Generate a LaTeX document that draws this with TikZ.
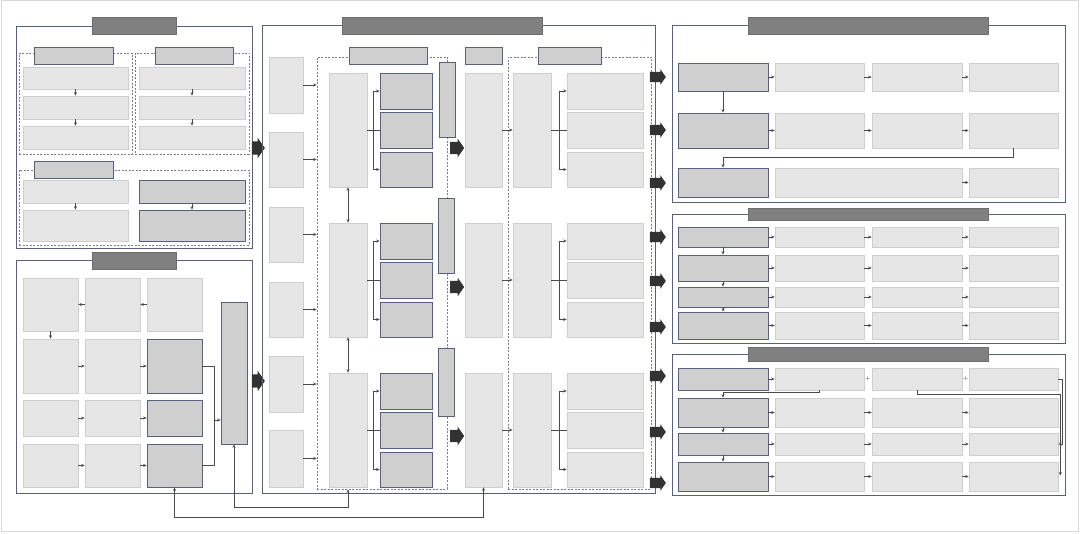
\documentclass[tikz,border=0pt]{standalone}
\usepackage{tikz}
\usetikzlibrary{arrows.meta,calc,shapes.arrows,positioning}
\definecolor{slate}{RGB}{86,98,124}
\definecolor{titlegray}{RGB}{128,128,128}
\definecolor{lightfill}{RGB}{230,230,230}
\definecolor{lightedge}{RGB}{206,206,206}
\definecolor{midfill}{RGB}{208,207,208}
\definecolor{dashgray}{RGB}{125,125,125}
\definecolor{linegray}{RGB}{75,75,75}
\definecolor{arrowgray}{RGB}{50,50,50}
\definecolor{framegray}{RGB}{216,216,216}

% box from corner (x1,y1) to (x2,y2)
\newcommand{\bx}[6]{\node[#1, minimum width={((#5)-(#3))*1pt}, minimum height={((#6)-(#4))*1pt}] (#2) at ({((#3)+(#5))/2},{((#4)+(#6))/2}) {};}
% shaft thickness of a big arrow
\newcommand{\shaft}[1]{\rule{0pt}{#1}}

\tikzset{
	panel/.style={draw=slate, line width=0.9pt, inner sep=0},
	titlebar/.style={fill=titlegray, draw=titlegray!85!black, line width=0.4pt, inner sep=0},
	lbox/.style={fill=lightfill, draw=lightedge, line width=0.6pt, inner sep=0},
	gbox/.style={fill=midfill, draw=slate, line width=0.7pt, inner sep=0},
	dbox/.style={draw=dashgray, dash pattern=on 2pt off 1.5pt, line width=0.6pt, inner sep=0},
	flow/.style={draw=linegray, line width=0.5pt, -{Stealth[length=3.5pt,width=3pt]}},
	twoway/.style={draw=linegray, line width=0.5pt, {Stealth[length=3.5pt,width=3pt]}-{Stealth[length=3.5pt,width=3pt]}},
	link/.style={draw=linegray, line width=0.5pt},
	bigarrow/.style={single arrow, fill=arrowgray, inner sep=0, minimum height=16pt, single arrow head extend=2.5pt, single arrow head indent=0pt, single arrow tip angle=110},
	plussign/.style={text=linegray, font=\scriptsize, inner sep=0}
}

\begin{document}
\begin{tikzpicture}[x=1pt,y=1pt,yscale=-1]
	\useasboundingbox (0,0) rectangle (1080,534);
	\draw[framegray, line width=1pt] (1,1) rectangle (1078,532);
	
	% panel A
	\bx{panel}{pa}{16}{26}{252}{248}
	\bx{titlebar}{ta}{92}{17}{176}{34}
	\bx{dbox}{da1}{19}{53}{132}{154}
	\bx{dbox}{da2}{135}{53}{249}{154}
	\bx{dbox}{da3}{19}{170}{249}{245}
	\bx{gbox}{ha1}{34}{47}{113}{64}
	\bx{gbox}{ha2}{155}{47}{233}{64}
	\bx{gbox}{ha3}{34}{161}{113}{178}
	\foreach \c/\xa/\xb in {1/23/128, 2/139/245} {
		\bx{lbox}{a\c1}{\xa}{67}{\xb}{89}
		\bx{lbox}{a\c2}{\xa}{96}{\xb}{119}
		\bx{lbox}{a\c3}{\xa}{126}{\xb}{149}
		\draw[flow] (a\c1) -- (a\c2);
		\draw[flow] (a\c2) -- (a\c3);
	}
	\bx{lbox}{a31}{23}{180}{128}{203}
	\bx{lbox}{a32}{23}{210}{128}{241}
	\bx{gbox}{a33}{139}{180}{245}{203}
	\bx{gbox}{a34}{139}{210}{245}{241}
	\draw[flow] (a31) -- (a32);
	\draw[flow] (a33) -- (a34);
	
	% panel B
	\bx{panel}{pb}{16}{260}{252}{493}
	\bx{titlebar}{tb}{92}{252}{176}{269}
	\foreach \r/\ya/\yb in {1/278/331, 2/339/393, 3/400/436, 4/444/487} {
		\bx{lbox}{b\r1}{23}{\ya}{78}{\yb}
		\bx{lbox}{b\r2}{85}{\ya}{140}{\yb}
	}
	\bx{lbox}{b13}{147}{278}{202}{331}
	\bx{gbox}{b23}{147}{339}{202}{393}
	\bx{gbox}{b33}{147}{400}{202}{436}
	\bx{gbox}{b43}{147}{444}{202}{487}
	\bx{gbox}{bt}{221}{302}{247}{444}
	\draw[flow] (b13) -- (b12);
	\draw[flow] (b12) -- (b11);
	\draw[flow] (b11) -- (b21);
	\foreach \r in {2,3,4} {
		\draw[flow] (b\r1) -- (b\r2);
		\draw[flow] (b\r2) -- (b\r3);
	}
	\draw[link] (b23.east) -- ++(12,0) |- (b43.east);
	\coordinate (bj) at ($(b23.east)+(12,54)$);
	\draw[flow] (bj) -- (bj -| bt.west);
	\node[bigarrow, minimum height=13pt, single arrow head extend=3.5pt] (ba1) at (256,148) {\shaft{13pt}};
	\node[bigarrow, minimum height=13pt, single arrow head extend=3.5pt] (ba2) at (256,381) {\shaft{13pt}};
	
	% panel C
	\bx{panel}{pc}{262}{25}{655}{493}
	\bx{titlebar}{tc}{342}{17}{542}{34}
	\bx{dbox}{dc1}{317}{57}{447}{489}
	\bx{dbox}{dc2}{508}{57}{651}{489}
	\bx{gbox}{hc1}{349}{47}{427}{64}
	\bx{gbox}{hc0}{465}{47}{502}{64}
	\bx{gbox}{hc2}{538}{47}{601}{64}
	\foreach \k/\ya/\yb in {1/57/113, 2/132/187, 3/207/262, 4/282/337, 5/356/412, 6/430/487} {
		\bx{lbox}{s\k}{269}{\ya}{303}{\yb}
		\draw[flow] (s\k.east) -- (s\k.east -| dc1.west);
	}
	\foreach \r/\ya/\yb in {1/73/187, 2/223/337, 3/373/487} {
		\bx{lbox}{t\r}{329}{\ya}{367}{\yb}
		\bx{lbox}{m\r}{465}{\ya}{502}{\yb}
		\bx{lbox}{f\r}{513}{\ya}{551}{\yb}
		\bx{gbox}{g\r1}{380}{\ya}{432}{\ya+36}
		\bx{gbox}{g\r2}{380}{\ya+39}{432}{\ya+75}
		\bx{gbox}{g\r3}{380}{\ya+79}{432}{\yb}
		\bx{lbox}{h\r1}{567}{\ya}{643}{\ya+36}
		\bx{lbox}{h\r2}{567}{\ya+39}{643}{\ya+75}
		\bx{lbox}{h\r3}{567}{\ya+79}{643}{\yb}
		\draw[flow] (m\r) -- (f\r);
		\draw[link] (t\r) -- (g\r2);
		\coordinate (kt\r) at ($(t\r.east)!0.5!(g\r2.west)$);
		\draw[flow] (kt\r |- g\r3.west) -- (kt\r |- g\r1.west) -- (g\r1.west);
		\draw[flow] (kt\r |- g\r1.west) -- (kt\r |- g\r3.west) -- (g\r3.west);
		\draw[link] (f\r) -- (h\r2);
		\coordinate (kf\r) at ($(f\r.east)!0.5!(h\r2.west)$);
		\draw[flow] (kf\r |- h\r3.west) -- (kf\r |- h\r1.west) -- (h\r1.west);
		\draw[flow] (kf\r |- h\r1.west) -- (kf\r |- h\r3.west) -- (h\r3.west);
	}
	\draw[twoway] (t1) -- (t2);
	\draw[twoway] (t2) -- (t3);
	\bx{gbox}{n1}{439}{62}{455}{137}
	\bx{gbox}{n2}{438}{198}{454}{273}
	\bx{gbox}{n3}{438}{348}{454}{416}
	\foreach \y [count=\i] in {148,287,436}
		\node[bigarrow, minimum height=14pt, single arrow head extend=3pt] (bc\i) at (455,\y) {\shaft{12pt}};
	\foreach \y [count=\i] in {77,130,183,237,281,327,376,432,483}
		\node[bigarrow] (rb\i) at (656,\y) {\shaft{10pt}};
	
	% feedback lines
	\draw[twoway] (b43.south) |- ($(m3.south)+(0,30)$) -- (m3.south);
	\coordinate (dcb) at (t3.south |- dc1.south);
	\draw[twoway] (bt.south) |- ($(dcb)+(0,18)$) -- (dcb);
	
	% panel U
	\bx{panel}{pu}{672}{25}{1065}{202}
	\bx{titlebar}{tu}{748}{17}{988}{34}
	\foreach \r/\ya/\yb in {1/63/91, 2/113/148} {
		\bx{gbox}{u\r1}{678}{\ya}{768}{\yb}
		\bx{lbox}{u\r2}{775}{\ya}{864}{\yb}
		\bx{lbox}{u\r3}{872}{\ya}{962}{\yb}
		\bx{lbox}{u\r4}{969}{\ya}{1058}{\yb}
		\draw[flow] (u\r1) -- (u\r2);
		\draw[flow] (u\r2) -- (u\r3);
		\draw[flow] (u\r3) -- (u\r4);
	}
	\bx{gbox}{u31}{678}{168}{768}{197}
	\bx{lbox}{u32}{775}{168}{962}{197}
	\bx{lbox}{u34}{969}{168}{1058}{197}
	\draw[flow] (u11) -- (u21);
	\draw[flow] (u24.south) |- ($(u31.north)+(0,-10)$) -- (u31.north);
	\draw[flow] (u32) -- (u34);
	
	% panel V
	\bx{panel}{pv}{672}{214}{1065}{343}
	\bx{titlebar}{tv}{748}{208}{988}{220}
	\foreach \r/\ya/\yb in {1/227/247, 2/255/281, 3/287/307, 4/312/339} {
		\bx{gbox}{v\r1}{678}{\ya}{768}{\yb}
		\bx{lbox}{v\r2}{775}{\ya}{864}{\yb}
		\bx{lbox}{v\r3}{872}{\ya}{962}{\yb}
		\bx{lbox}{v\r4}{969}{\ya}{1058}{\yb}
		\draw[flow] (v\r1) -- (v\r2);
		\draw[flow] (v\r2) -- (v\r3);
		\draw[flow] (v\r3) -- (v\r4);
	}
	\draw[flow] (v11) -- (v21);
	\draw[flow] (v21) -- (v31);
	\draw[flow] (v31) -- (v41);
	
	% panel W
	\bx{panel}{pw}{672}{354}{1065}{495}
	\bx{titlebar}{tw}{748}{347}{988}{361}
	\foreach \r/\ya/\yb in {1/368/390, 2/398/427, 3/433/455, 4/462/491} {
		\bx{gbox}{w\r1}{678}{\ya}{768}{\yb}
		\bx{lbox}{w\r2}{775}{\ya}{864}{\yb}
		\bx{lbox}{w\r3}{872}{\ya}{962}{\yb}
		\bx{lbox}{w\r4}{969}{\ya}{1058}{\yb}
		\draw[flow] (w\r1) -- (w\r2);
	}
	\foreach \r in {2,3,4} {
		\draw[flow] (w\r2) -- (w\r3);
		\draw[flow] (w\r3) -- (w\r4);
	}
	\node[plussign] (pl1) at ($(w12.east)!0.5!(w13.west)$) {+};
	\node[plussign] (pl2) at ($(w13.east)!0.5!(w14.west)$) {+};
	\draw[flow] (w21) -- (w31);
	\draw[flow] (w31) -- (w41);
	\draw[flow] (w12.south) |- ($(w21.north)+(0,-5)$) -- (w21.north);
	\draw[flow] (w13.south) |- ($(w14.east)+(2,15)$) -- ($(w44.east)+(2,-1)$);
	\draw[flow] (w14.east) -- ++(4,0) |- (w34.east);
\end{tikzpicture}
\end{document}
